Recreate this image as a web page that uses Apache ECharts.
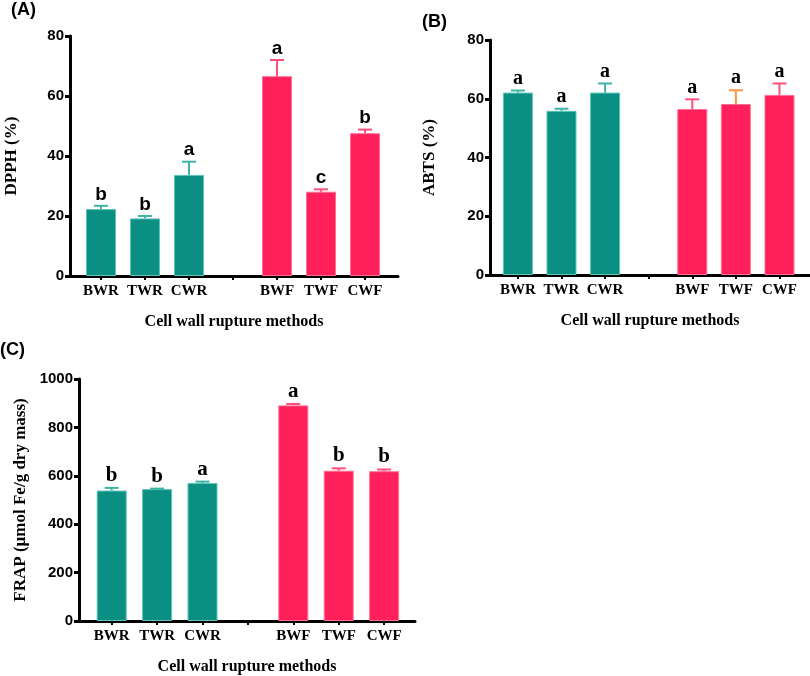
<!DOCTYPE html>
<html>
<head>
<meta charset="utf-8">
<script src="https://cdn.jsdelivr.net/npm/echarts@6/dist/echarts.min.js"></script>
<style>
html,body{margin:0;padding:0;background:#fff;}
#chart{width:810px;height:676px;}
</style>
</head>
<body>
<div id="chart"></div>
<script>
// ---- data ----
const categories = ['BWR', 'TWR', 'CWR', 'BWF', 'TWF', 'CWF'];
const slots = [0, 1, 2, 4, 5, 6]; // position on axis (3 is the gap between groups)

const dpphMean = [22.3, 19.2, 33.7, 66.6, 28.1, 47.6];
const dpphSD   = [1.1, 0.8, 4.4, 5.4, 0.8, 1.2];
const dpphLetters = ['b', 'b', 'a', 'a', 'c', 'b'];

const abtsMean = [62.1, 55.9, 62.1, 56.5, 58.2, 61.3];
const abtsSD   = [0.7, 0.7, 3.1, 3.3, 4.7, 3.9];
const abtsLetters = ['a', 'a', 'a', 'a', 'a', 'a'];

const frapMean = [539, 545, 570, 891, 621, 619];
const frapSD   = [11, 2, 6, 6, 10, 7];
const frapLetters = ['b', 'b', 'a', 'a', 'b', 'b'];

// ---- styles ----
const TEAL = '#0b8f83', PINK = '#ff1f5a';
const TEAL_EDGE = '#5cc4b8', PINK_EDGE = '#ff6f93';
const TEAL_ERR = '#3fb3a6', PINK_ERR = '#ff4f7c';
const serif = '"Liberation Serif","Times New Roman",serif';
const sans = '"Liberation Sans",Arial,sans-serif';

const chart = echarts.init(document.getElementById('chart'), null, {renderer: 'canvas'});

const panels = [
  {grid: {left: 70, top: 36, width: 328, height: 240}, xmin: -0.705, xmax: 6.75,
   ymax: 80, yint: 20, yname: 'DPPH (%)', nameGap: 50,
   mean: dpphMean, sd: dpphSD, letters: dpphLetters, letterFont: 'bold 19px ' + sans,
   errColors: [TEAL_ERR, TEAL_ERR, TEAL_ERR, PINK_ERR, PINK_ERR, PINK_ERR]},
  {grid: {left: 490, top: 40, width: 320, height: 235}, xmin: -0.64, xmax: 6.7,
   ymax: 80, yint: 20, yname: 'ABTS (%)', nameGap: 52,
   mean: abtsMean, sd: abtsSD, letters: abtsLetters, letterFont: 'bold 20px ' + serif,
   errColors: [TEAL_ERR, TEAL_ERR, TEAL_ERR, PINK_ERR, '#ff9440', PINK_ERR]},
  {grid: {left: 79, top: 379, width: 336, height: 246}, xmin: -0.72, xmax: 6.68,
   ymax: 1000, yint: 200, yname: 'FRAP (µmol Fe/g dry mass)', nameGap: 50,
   mean: frapMean, sd: frapSD, letters: frapLetters, letterFont: 'bold 21px ' + serif,
   errColors: [TEAL_ERR, TEAL_ERR, TEAL_ERR, PINK_ERR, PINK_ERR, PINK_ERR]}
];

const grids = [], xAxes = [], yAxes = [], series = [];
panels.forEach(function (p, k) {
  grids.push(Object.assign({containLabel: false}, p.grid));
  xAxes.push({
    type: 'value', gridIndex: k, min: p.xmin, max: p.xmax,
    name: 'Cell wall rupture methods', nameLocation: 'middle', nameGap: 38,
    nameTextStyle: {fontFamily: serif, fontWeight: 'bold', fontSize: 16, color: '#000'},
    axisLine: {show: true, onZero: false, lineStyle: {color: '#000', width: 3}},
    axisTick: {show: true, customValues: [0, 1, 2, 3, 4, 5, 6], length: 4, lineStyle: {color: '#000', width: 2}},
    axisLabel: {
      customValues: slots, margin: 8,
      fontFamily: serif, fontWeight: 'bold', fontSize: 15, color: '#000',
      formatter: function (v) { const i = slots.indexOf(Math.round(v)); return i >= 0 ? categories[i] : ''; }
    },
    splitLine: {show: false}
  });
  yAxes.push({
    type: 'value', gridIndex: k, min: 0, max: p.ymax, interval: p.yint,
    name: p.yname, nameLocation: 'middle', nameGap: p.nameGap, nameRotate: 90,
    nameTextStyle: {fontFamily: serif, fontWeight: 'bold', fontSize: 17, color: '#000'},
    axisLine: {show: true, onZero: false, lineStyle: {color: '#000', width: 3}},
    axisTick: {show: true, length: 5, lineStyle: {color: '#000', width: 3}},
    axisLabel: {margin: 6, fontFamily: sans, fontWeight: 'bold', fontSize: 15, color: '#000',
      formatter: function (v) { return String(v); }},
    splitLine: {show: false}
  });
  series.push({
    type: 'bar', xAxisIndex: k, yAxisIndex: k, barWidth: 30,
    data: p.mean.map(function (m, i) {
      const grp = i < 3;
      return {value: [slots[i], m],
        itemStyle: {color: grp ? TEAL : PINK, borderColor: grp ? TEAL_EDGE : PINK_EDGE, borderWidth: 1}};
    }),
    silent: true
  });
  series.push({
    type: 'custom', xAxisIndex: k, yAxisIndex: k, z: 5, silent: true,
    data: p.mean.map(function (m, i) { return [slots[i], m, p.sd[i], i]; }),
    renderItem: function (params, api) {
      const x = api.value(0), m = api.value(1), sd = api.value(2), i = api.value(3);
      const a = api.coord([x, m]), b = api.coord([x, m + sd]);
      const c = p.errColors[i];
      return {type: 'group', children: [
        {type: 'line', shape: {x1: a[0], y1: a[1], x2: b[0], y2: b[1]}, style: {stroke: c, lineWidth: 2}},
        {type: 'line', shape: {x1: b[0] - 7, y1: b[1], x2: b[0] + 7, y2: b[1]}, style: {stroke: c, lineWidth: 2}},
        {type: 'text', style: {text: p.letters[i], x: b[0], y: b[1] - 2, align: 'center', verticalAlign: 'bottom',
          font: p.letterFont, fill: '#000'}}
      ]};
    }
  });
});

chart.setOption({
  animation: false,
  backgroundColor: '#fff',
  grid: grids, xAxis: xAxes, yAxis: yAxes, series: series,
  graphic: [
    {type: 'text', left: 11, top: 1, style: {text: '(A)', font: 'bold 18px ' + sans, fill: '#000'}},
    {type: 'text', left: 422, top: 13, style: {text: '(B)', font: 'bold 18px ' + sans, fill: '#000'}},
    {type: 'text', left: 0, top: 341, style: {text: '(C)', font: 'bold 18px ' + sans, fill: '#000'}}
  ]
});
</script>
</body>
</html>
